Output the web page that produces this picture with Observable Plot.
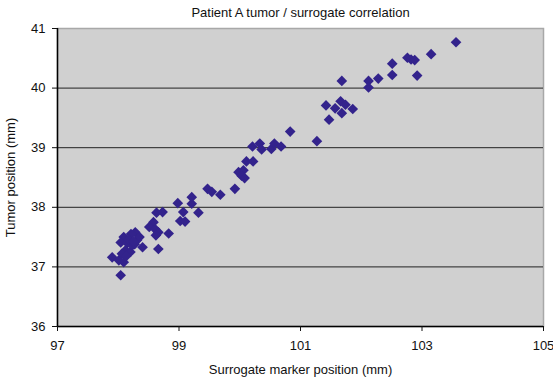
<!DOCTYPE html>
<html>
<head>
<meta charset="utf-8">
<script src="https://cdn.jsdelivr.net/npm/d3@7"></script>
<script src="https://cdn.jsdelivr.net/npm/@observablehq/plot@0.6"></script>
<style>
  html, body { margin: 0; padding: 0; background: #fff; }
  #chart svg { display: block; }
</style>
</head>
<body>
<div id="chart"></div>
<script>
const title = "Patient A tumor / surrogate correlation";
const xLabel = "Surrogate marker position (mm)";
const yLabel = "Tumor position (mm)";
const xTicks = [97, 99, 101, 103, 105];
const yTicks = [36, 37, 38, 39, 40, 41];

// Surrogate marker position (mm)
const surrogate = [
  103.56, 103.15, 102.76, 102.82, 102.88, 102.51, 102.51, 102.92, 102.28, 102.12,
  102.12, 101.68, 101.42, 101.66, 101.57, 101.68, 101.74, 101.86, 101.47, 101.27,
  100.83, 100.21, 100.33, 100.36, 100.52, 100.57, 100.68, 100.11, 100.22, 99.98,
  100.06, 100.03, 100.08, 99.47, 99.54, 99.68, 99.92, 99.21, 99.21, 98.98,
  99.07, 99.32, 99.02, 99.10, 98.63, 98.73, 98.58, 98.51, 98.61, 98.66,
  98.62, 98.83, 98.66,
  98.28, 98.21, 98.09, 98.04, 98.31, 98.40, 98.15, 98.12, 97.90, 98.01,
  98.06, 98.20, 98.23, 98.09, 98.17, 98.27, 98.35, 98.04, 98.13, 98.25
];
// Tumor position (mm)
const tumor = [
  40.77, 40.57, 40.51, 40.48, 40.47, 40.41, 40.22, 40.21, 40.16, 40.12,
  40.01, 40.12, 39.71, 39.78, 39.66, 39.58, 39.72, 39.65, 39.47, 39.11,
  39.27, 39.02, 39.07, 38.97, 38.98, 39.07, 39.02, 38.77, 38.77, 38.59,
  38.62, 38.53, 38.49, 38.31, 38.26, 38.21, 38.31, 38.17, 38.06, 38.07,
  37.92, 37.91, 37.77, 37.76, 37.91, 37.92, 37.75, 37.67, 37.63, 37.58,
  37.53, 37.56, 37.30,
  37.58, 37.55, 37.50, 37.41, 37.45, 37.33, 37.40, 37.28, 37.16, 37.11,
  37.22, 37.25, 37.36, 37.08, 37.46, 37.38, 37.50, 36.86, 37.18, 37.43
];

const data = surrogate.map((x, i) => ({x, y: tumor[i]}));

const chart = Plot.plot({
  width: 553,
  height: 378,
  marginLeft: 57,
  marginRight: 10,
  marginTop: 28,
  marginBottom: 52,
  style: {fontFamily: "'Liberation Sans', Arial, sans-serif", fontSize: "13px", color: "#111", background: "#fff"},
  x: {domain: [97, 105]},
  y: {domain: [36, 41]},
  marks: [
    Plot.frame({fill: "#d0d0d0", stroke: "#a8a8a8", strokeWidth: 1.5}),
    Plot.gridY([37, 38, 39, 40], {stroke: "#222", strokeOpacity: 1, strokeWidth: 1}),
    Plot.ruleX([97], {stroke: "#000", strokeWidth: 1.5}),
    Plot.ruleY([36], {stroke: "#000", strokeWidth: 1.5}),
    Plot.dot(data, {x: "x", y: "y", symbol: "diamond2", r: 4.8, fill: "#33238c", stroke: "none"}),
    Plot.axisX(xTicks, {tickSize: 5, tickPadding: 9, tickFormat: "d", label: xLabel, labelAnchor: "center", labelArrow: "none", labelOffset: 47, fontSize: 13}),
    Plot.axisY(yTicks, {tickSize: 5, tickPadding: 7, tickFormat: "d", label: yLabel, labelAnchor: "center", labelArrow: "none", labelOffset: 52, fontSize: 13}),
    Plot.text([title], {frameAnchor: "top", dy: -21, fontSize: 13})
  ]
});
document.getElementById("chart").appendChild(chart);
</script>
</body>
</html>
